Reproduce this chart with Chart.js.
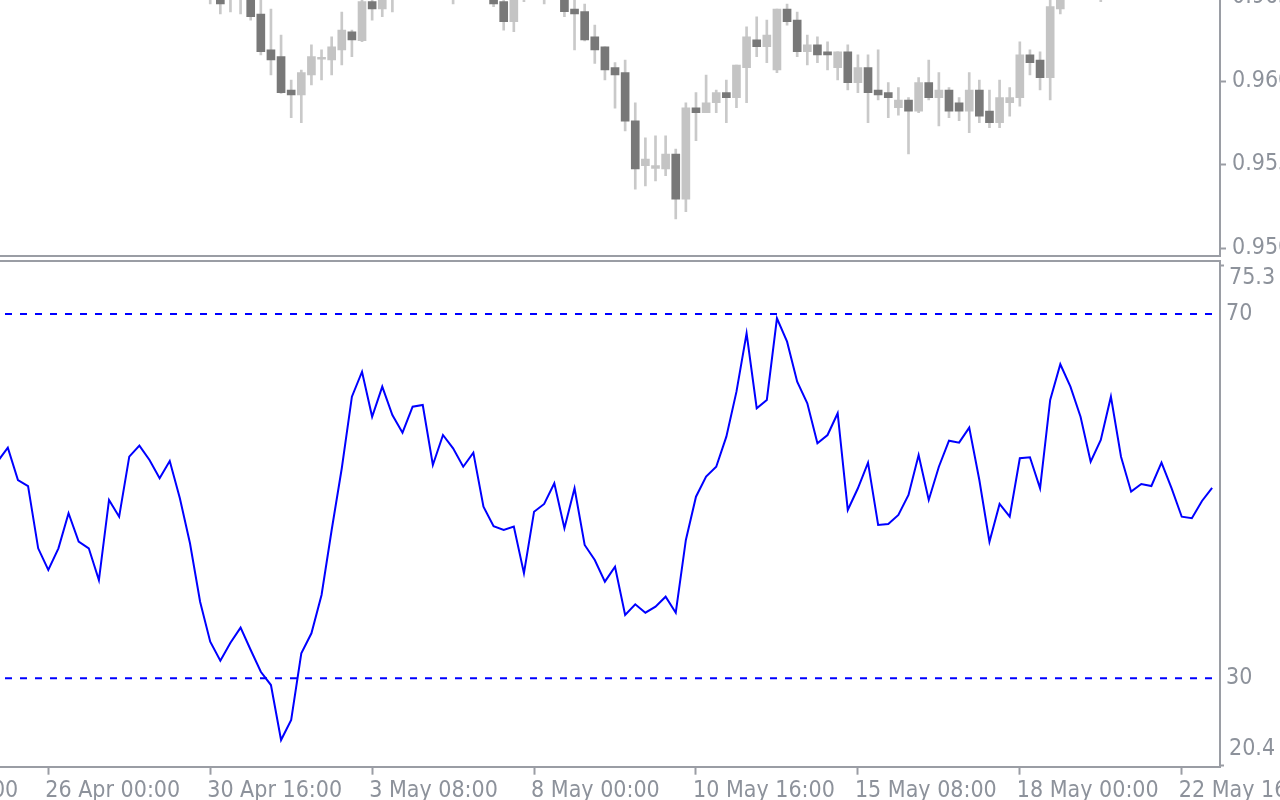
<!DOCTYPE html>
<html>
<head>
<meta charset="utf-8">
<script src="https://cdn.jsdelivr.net/npm/chart.js@4.4.0/dist/chart.umd.min.js"></script>
<style>
  html, body { margin: 0; padding: 0; background: #fff; overflow: hidden; }
  #wrap { position: relative; width: 1280px; height: 800px; overflow: hidden; background: #fff; }
  #price { position: absolute; left: 0; top: -20px; }
  #rsi { position: absolute; left: 0; top: 258px; }
</style>
</head>
<body>
<div id="wrap">
  <canvas id="price" width="1280" height="277"></canvas>
  <canvas id="rsi" width="1280" height="542"></canvas>
</div>
<script>
// H4 bars, index 0 is the bar cut by the left edge.
// null = candle lies completely above the visible part of the price window
const opens = [
  null, null, null, null, null, null, null, null, null, null,
  null, null, null, null, null, null, null, null, null, null,
  null, 0.96495, 0.96530, 0.96490, 0.96500, 0.96530, 0.96401, 0.96186, 0.96146, 0.95946,
  0.95916, 0.96036, 0.96130, 0.96126, 0.96186, 0.96295, 0.96241, 0.96475, 0.96431, 0.96500,
  null, null, null, null, null, 0.96500, null, null, null, 0.96510,
  0.96475, 0.96355, 0.96500, null, 0.96500, null, 0.96500, 0.96431, 0.96415, 0.96265,
  0.96205, 0.96080, 0.96050, 0.95762, 0.95493, 0.95477, 0.95473, 0.95563, 0.95293, 0.95840,
  0.95810, 0.95870, 0.95930, 0.95900, 0.96080, 0.96246, 0.96205, 0.96066, 0.96431, 0.96365,
  0.96175, 0.96216, 0.96175, 0.96080, 0.96175, 0.95990, 0.96080, 0.95946, 0.95930, 0.95840,
  0.95886, 0.95820, 0.95990, 0.95900, 0.95946, 0.95870, 0.95820, 0.95946, 0.95820, 0.95750,
  0.95870, 0.95900, 0.96156, 0.96126, 0.96020, 0.96431, null, null, null, 0.96510,
  null, null, null, null, null, null, null, null, null, null, null
];
const highs = [
  null, null, null, null, null, null, null, null, null, null,
  null, null, null, null, null, null, null, null, null, null,
  null, 0.96560, 0.96550, 0.96540, 0.96550, 0.96545, 0.96490, 0.96431, 0.96275, 0.96006,
  0.96066, 0.96216, 0.96186, 0.96265, 0.96413, 0.96305, 0.96490, 0.96500, 0.96520, 0.96560,
  null, null, null, null, null, 0.96550, null, null, null, 0.96525,
  0.96490, 0.96510, 0.96550, null, 0.96550, null, 0.96520, 0.96490, 0.96461, 0.96335,
  0.96205, 0.96110, 0.96126, 0.95870, 0.95660, 0.95671, 0.95671, 0.95593, 0.95870, 0.95930,
  0.96036, 0.95946, 0.96006, 0.96096, 0.96325, 0.96385, 0.96365, 0.96431, 0.96461, 0.96413,
  0.96275, 0.96265, 0.96235, 0.96175, 0.96216, 0.96156, 0.96156, 0.96186, 0.95990, 0.95960,
  0.95900, 0.96020, 0.96126, 0.96050, 0.95960, 0.95900, 0.96050, 0.96006, 0.95946, 0.96006,
  0.95960, 0.96235, 0.96186, 0.96175, 0.96490, 0.96520, null, null, null, 0.96560,
  null, null, null, null, null, null, null, null, null, null, null
];
const lows = [
  null, null, null, null, null, null, null, null, null, null,
  null, null, null, null, null, null, null, null, null, null,
  null, 0.96461, 0.96401, 0.96413, 0.96401, 0.96365, 0.96156, 0.96036, 0.95925, 0.95780,
  0.95750, 0.95976, 0.96006, 0.96036, 0.96096, 0.96146, 0.96235, 0.96365, 0.96385, 0.96413,
  null, null, null, null, null, 0.96461, null, null, null, 0.96445,
  0.96305, 0.96295, 0.96475, null, 0.96461, null, 0.96385, 0.96186, 0.96240, 0.96106,
  0.96006, 0.95837, 0.95701, 0.95353, 0.95371, 0.95401, 0.95433, 0.95174, 0.95217, 0.95643,
  0.95810, 0.95810, 0.95750, 0.95840, 0.95870, 0.96146, 0.96110, 0.96050, 0.96335, 0.96146,
  0.96096, 0.96110, 0.96066, 0.96006, 0.95946, 0.95930, 0.95750, 0.95886, 0.95780, 0.95796,
  0.95563, 0.95810, 0.95886, 0.95731, 0.95780, 0.95762, 0.95690, 0.95750, 0.95720, 0.95720,
  0.95790, 0.95850, 0.96036, 0.95946, 0.95886, 0.96401, null, null, null, 0.96475,
  null, null, null, null, null, null, null, null, null, null, null
];
const closes = [
  null, null, null, null, null, null, null, null, null, null,
  null, null, null, null, null, null, null, null, null, null,
  null, 0.96530, 0.96461, 0.96520, 0.96530, 0.96385, 0.96175, 0.96126, 0.95930, 0.95916,
  0.96050, 0.96146, 0.96142, 0.96205, 0.96305, 0.96246, 0.96475, 0.96431, 0.96500, 0.96540,
  null, null, null, null, null, 0.96530, null, null, null, 0.96461,
  0.96355, 0.96495, 0.96530, null, 0.96530, null, 0.96415, 0.96401, 0.96246, 0.96186,
  0.96066, 0.96036, 0.95760, 0.95473, 0.95533, 0.95493, 0.95563, 0.95293, 0.95840, 0.95810,
  0.95870, 0.95930, 0.95900, 0.96096, 0.96265, 0.96205, 0.96275, 0.96431, 0.96355, 0.96175,
  0.96216, 0.96156, 0.96156, 0.96175, 0.95990, 0.96080, 0.95930, 0.95916, 0.95900, 0.95886,
  0.95820, 0.95990, 0.95900, 0.95946, 0.95820, 0.95820, 0.95946, 0.95790, 0.95750, 0.95900,
  0.95900, 0.96156, 0.96110, 0.96020, 0.96445, 0.96500, null, null, null, 0.96540,
  null, null, null, null, null, null, null, null, null, null, null
];

// RSI, one value per bar
const rsiValues = [
  53.82, 55.32, 51.77, 51.11, 44.27, 41.89, 44.27, 48.12, 45.00, 44.27,
  40.79, 49.58, 47.74, 54.33, 55.54, 53.97, 51.96, 53.86, 49.76, 44.82,
  38.41, 34.02, 31.93, 33.91, 35.56, 33.11, 30.72, 29.26, 23.22, 25.42,
  32.74, 34.94, 39.15, 46.28, 53.06, 60.92, 63.66, 58.72, 62.02, 58.91,
  56.97, 59.82, 60.01, 53.42, 56.71, 55.25, 53.23, 54.77, 48.84, 46.69,
  46.28, 46.65, 41.53, 48.29, 49.14, 51.41, 46.47, 50.86, 44.64, 42.99,
  40.61, 42.25, 36.95, 38.12, 37.20, 37.86, 38.96, 37.20, 45.19, 49.94,
  52.14, 53.23, 56.53, 61.47, 67.88, 59.65, 60.56, 69.53, 66.96, 62.57,
  60.19, 55.80, 56.71, 59.10, 48.48, 50.86, 53.67, 46.83, 46.94, 47.93,
  50.13, 54.52, 49.58, 53.23, 56.09, 55.87, 57.52, 51.77, 45.00, 49.14,
  47.74, 54.16, 54.27, 50.86, 60.56, 64.48, 62.02, 58.72, 53.78, 56.17,
  60.92, 54.33, 50.49, 51.33, 51.11, 53.67, 50.86, 47.74, 47.57, 49.47, 50.90
];
const rsiLevels = [70, 30];
const rsiTicks = [20.4, 30, 70, 75.3];

const priceTicks = [0.95, 0.955, 0.96, 0.965];

// time labels sit on every 16th bar
const timeTickBars = [-11, 5, 21, 37, 53, 69, 85, 101, 117];
const timeTickLabels = ['23 Apr 08:00', '26 Apr 00:00', '30 Apr 16:00', '3 May 08:00', '8 May 00:00',
  '10 May 16:00', '15 May 08:00', '18 May 00:00', '22 May 16:00'];

// visible bar window (bar 0 centre is 2.3px left of the edge, 10.12px per bar)
const X_MIN = 0.227;
const X_MAX = 120.78;
const PRICE_MIN = 0.949539;
const PRICE_MAX = 0.966048;
const RSI_MIN = 20.293;
const RSI_MAX = 75.816;

const TEXT = '#8d929b';
const AXIS = '#9a9da4';
const FONT = { family: '"DejaVu Sans Condensed", "DejaVu Sans", sans-serif', size: 23 };

Chart.defaults.font.family = FONT.family;
Chart.defaults.font.size = FONT.size;
Chart.defaults.color = TEXT;

const bars = closes.map((c, i) => i).filter(i => closes[i] !== null);

// price window
new Chart(document.getElementById('price'), {
  type: 'bar',
  data: {
    datasets: [
      {
        data: bars.map(i => ({ x: i, y: [opens[i], closes[i]] })),
        backgroundColor: bars.map(i => closes[i] >= opens[i] ? '#c4c4c4' : '#787878'),
        barThickness: 8,
        minBarLength: 2,
        grouped: false,
        order: 1
      },
      {
        data: bars.map(i => ({ x: i, y: [lows[i], highs[i]] })),
        backgroundColor: '#c9c9c9',
        barThickness: 2,
        grouped: false,
        order: 2
      }
    ]
  },
  options: {
    responsive: false,
    animation: false,
    devicePixelRatio: 1,
    layout: { padding: 0 },
    plugins: { legend: { display: false }, tooltip: { enabled: false } },
    scales: {
      x: {
        type: 'linear', min: X_MIN, max: X_MAX, offset: false,
        ticks: { display: false },
        grid: { offset: false, drawOnChartArea: false, drawTicks: false },
        border: { display: true, color: AXIS, width: 2 },
        afterFit: s => { s.height = 1.3; s.paddingLeft = 0; s.paddingRight = 0; }
      },
      y: {
        position: 'right', min: PRICE_MIN, max: PRICE_MAX,
        afterBuildTicks: s => { s.ticks = priceTicks.map(v => ({ value: v })); },
        afterFit: s => { s.width = 60; s.paddingTop = 0; s.paddingBottom = 0; },
        ticks: { padding: 6, color: TEXT, callback: v => v.toFixed(5) },
        grid: { drawOnChartArea: false, tickLength: 6, tickWidth: 2, tickColor: AXIS },
        border: { display: true, color: AXIS, width: 2 }
      }
    }
  }
});

// labels of the RSI scale + top edge of the window
const rsiFrame = {
  id: 'rsiFrame',
  afterDraw(chart) {
    const { ctx, chartArea } = chart;
    const y = chart.scales.y;
    ctx.save();
    ctx.strokeStyle = AXIS;
    ctx.lineWidth = 2;
    ctx.beginPath();
    ctx.moveTo(0, chartArea.top);
    ctx.lineTo(chartArea.right, chartArea.top);
    ctx.stroke();

    ctx.font = FONT.size + 'px ' + FONT.family;
    ctx.fillStyle = TEXT;
    ctx.textBaseline = 'middle';
    ctx.textAlign = 'left';
    rsiTicks.forEach((v, i) => {
      let py = y.getPixelForValue(v);
      let px = y.left + 6;
      if (i === rsiTicks.length - 1) { py += 12.5; px = y.left + 9; }
      if (i === 0) { py -= 16.5; px = y.left + 9; }
      ctx.fillText(String(v), px, py);
    });
    ctx.restore();
  }
};

// RSI window
new Chart(document.getElementById('rsi'), {
  type: 'line',
  data: {
    datasets: [
      {
        data: rsiValues.map((v, i) => ({ x: i, y: v })),
        borderColor: '#0000ff',
        borderWidth: 2,
        pointRadius: 0,
        tension: 0,
        order: 0
      },
      ...rsiLevels.map(l => ({
        data: [{ x: X_MIN, y: l }, { x: X_MAX, y: l }],
        borderColor: '#0000ff',
        borderWidth: 2,
        borderDash: [7, 8],
        borderDashOffset: 10,
        pointRadius: 0,
        order: 1
      }))
    ]
  },
  options: {
    responsive: false,
    animation: false,
    devicePixelRatio: 1,
    layout: { padding: { top: 3, left: 0, right: 0, bottom: 0 } },
    plugins: { legend: { display: false }, tooltip: { enabled: false } },
    scales: {
      x: {
        type: 'linear', min: X_MIN, max: X_MAX, offset: false,
        afterBuildTicks: s => { s.ticks = timeTickBars.map(v => ({ value: v })); },
        afterFit: s => { s.height = 33.3; s.paddingLeft = 0; s.paddingRight = 0; },
        ticks: {
          autoSkip: false, maxRotation: 0, minRotation: 0,
          align: 'start', labelOffset: -3, padding: 2.2,
          color: TEXT,
          callback: (v, i) => timeTickLabels[i]
        },
        grid: { drawOnChartArea: false, tickLength: 8, tickWidth: 2, tickColor: AXIS },
        border: { display: true, color: AXIS, width: 2 }
      },
      y: {
        position: 'right', min: RSI_MIN, max: RSI_MAX,
        afterBuildTicks: s => { s.ticks = rsiTicks.map(v => ({ value: v })); },
        afterFit: s => { s.width = 60; s.paddingTop = 0; s.paddingBottom = 0; },
        ticks: { display: false },
        grid: {
          drawOnChartArea: false, tickLength: 4, tickWidth: 2,
          tickColor: c => (c.tick && rsiLevels.includes(c.tick.value)) ? 'rgba(0,0,0,0)' : AXIS
        },
        border: { display: true, color: AXIS, width: 2 }
      }
    }
  },
  plugins: [rsiFrame]
});
</script>
</body>
</html>
